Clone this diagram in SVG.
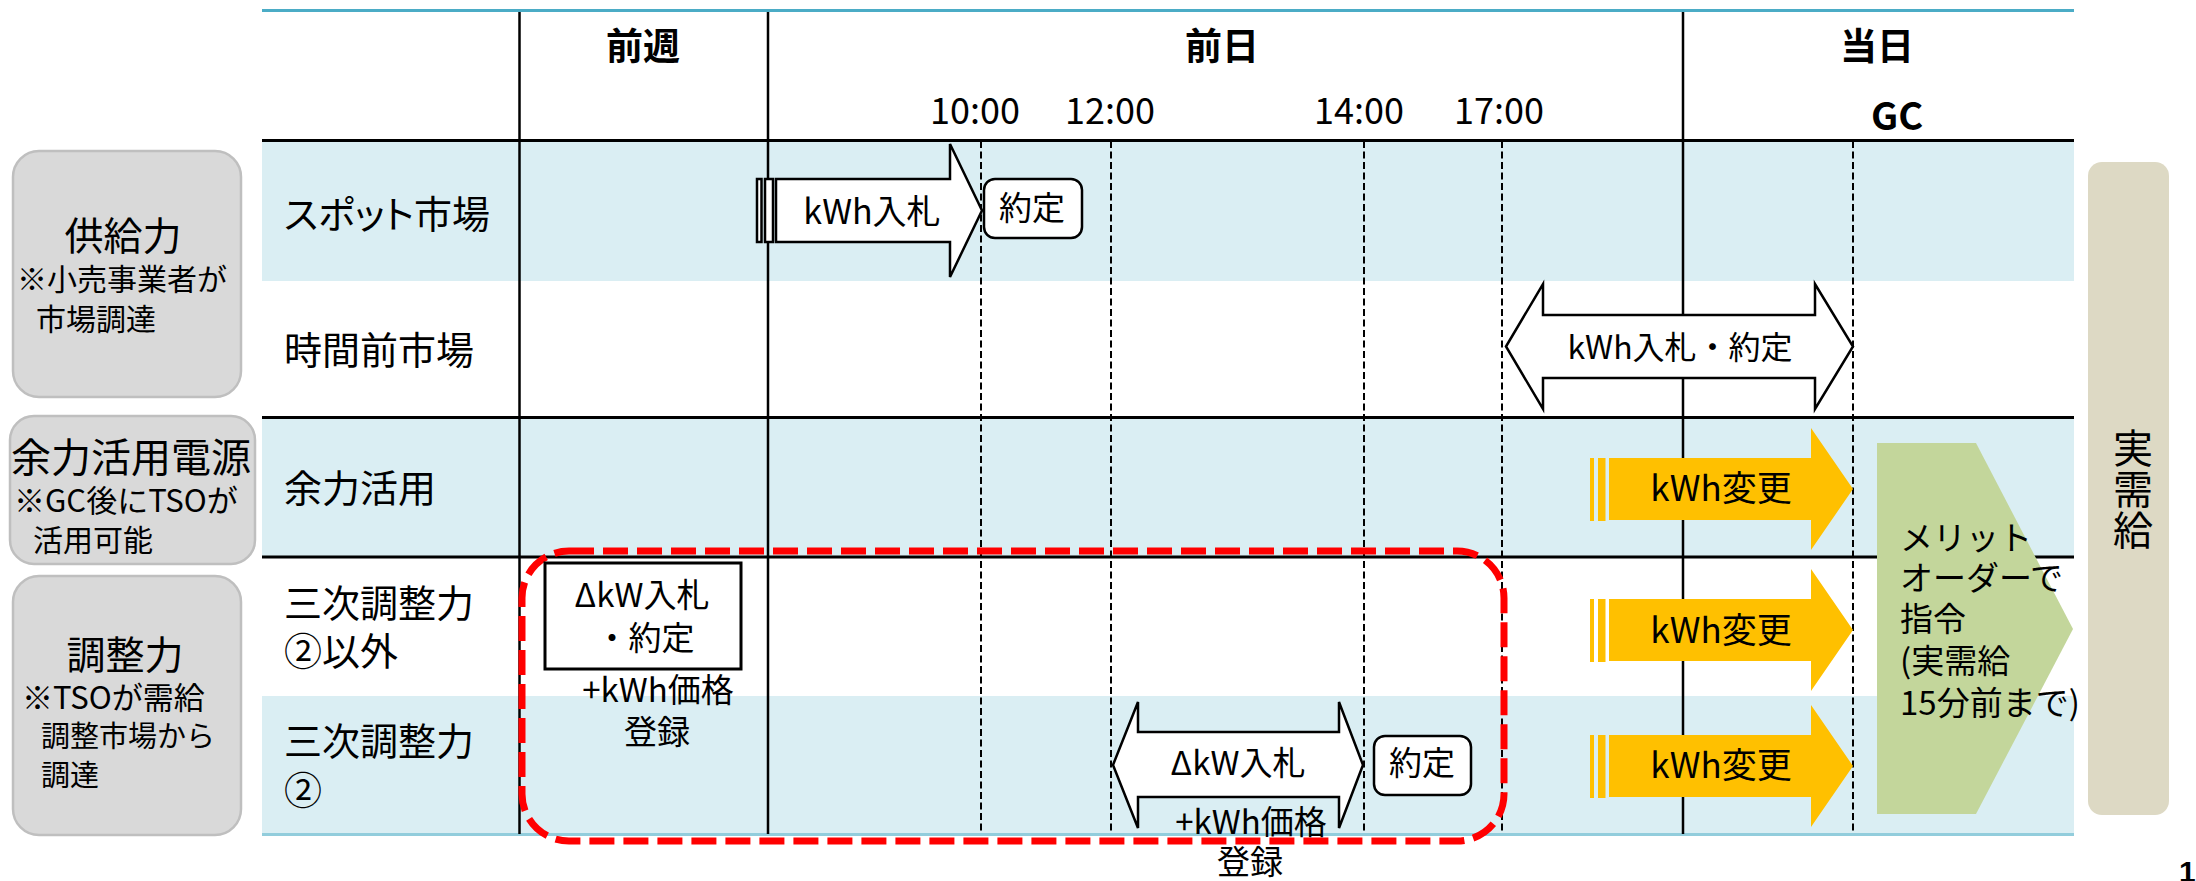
<svg xmlns="http://www.w3.org/2000/svg" width="2196" height="881" viewBox="0 0 2196 881">
<defs>
<style>
text{font-family:"Noto Sans CJK JP","Noto Sans",sans-serif;fill:#000}
.hd{font-size:37px;font-weight:bold;text-anchor:middle}
.tm{font-size:36px;text-anchor:middle}
.rl{font-size:38px}
.big{font-size:39px}
.sm{font-size:30px}
.c{text-anchor:middle}
.t33{font-size:33px}
.band{fill:#daeef3}
.hl{stroke:#000;stroke-width:3}
.vl{stroke:#000;stroke-width:2.5}
.dl{stroke:#000;stroke-width:2;stroke-dasharray:7 3.5}
.gbox{fill:#d9d9d9;stroke:#bfbfbf;stroke-width:2.5}
.wa{fill:#fff;stroke:#000;stroke-width:2.5;stroke-linejoin:miter}
.or{fill:#ffc000}
</style>
<g id="orangeArrow">
<rect class="or" x="1590" y="458" width="4" height="63"/>
<rect class="or" x="1598" y="458" width="7.5" height="63"/>
<polygon class="or" points="1609,458 1811,458 1811,428 1853,489 1811,550 1811,520 1609,520"/>
</g>
</defs>

<g id="table">
<rect class="band" x="262" y="141" width="1812" height="140"/>
<rect class="band" x="262" y="418" width="1812" height="139"/>
<rect class="band" x="262" y="696" width="1812" height="138"/>
<line x1="262" y1="10.5" x2="2074" y2="10.5" stroke="#4bacc6" stroke-width="3"/>
<line x1="262" y1="834.5" x2="2074" y2="834.5" stroke="#92cddc" stroke-width="3"/>
<line class="hl" x1="262" y1="140.5" x2="2074" y2="140.5"/>
<line class="hl" x1="262" y1="417.5" x2="2074" y2="417.5"/>
<line class="hl" x1="262" y1="557" x2="2074" y2="557"/>
<line class="vl" x1="519.5" y1="12" x2="519.5" y2="834"/>
<line class="vl" x1="768" y1="12" x2="768" y2="834"/>
<line class="vl" x1="1683" y1="12" x2="1683" y2="834"/>
<line class="dl" x1="981" y1="141" x2="981" y2="834"/>
<line class="dl" x1="1111" y1="141" x2="1111" y2="834"/>
<line class="dl" x1="1364" y1="141" x2="1364" y2="834"/>
<line class="dl" x1="1502" y1="141" x2="1502" y2="834"/>
<line class="dl" x1="1853" y1="141" x2="1853" y2="834"/>
</g>

<g id="headers">
<text class="hd" x="643" y="60">前週</text>
<text class="hd" x="1222" y="60">前日</text>
<text class="hd" x="1877" y="60">当日</text>
<text class="tm" x="975" y="124">10:00</text>
<text class="tm" x="1110" y="124">12:00</text>
<text class="tm" x="1359" y="124">14:00</text>
<text class="tm" x="1499" y="124">17:00</text>
<text class="hd" x="1897" y="130" style="font-size:38px">GC</text>
</g>

<g id="rowLabels">
<text class="rl" x="284" y="228" style="font-feature-settings:'palt'">スポット市場</text>
<text class="rl" x="284" y="364">時間前市場</text>
<text class="rl" x="284" y="502">余力活用</text>
<text class="rl" x="284" y="617">三次調整力<tspan x="284" y="665">②以外</tspan></text>
<text class="rl" x="284" y="755">三次調整力<tspan x="284" y="804">②</tspan></text>
</g>

<g id="cat-supply">
<rect class="gbox" x="13" y="151" width="228" height="246" rx="26"/>
<text class="big" x="123" y="250"><tspan class="c" x="123" y="250">供給力</tspan><tspan class="sm" x="17" y="290">※小売事業者が</tspan><tspan class="sm" x="36" y="330">市場調達</tspan></text>
</g>

<g id="cat-surplus">
<rect class="gbox" x="10" y="416" width="245" height="148" rx="24"/>
<text x="11" y="472" style="font-size:40px">余力活用電源<tspan x="14" y="512" style="font-size:31px">※GC後にTSOが</tspan><tspan x="33" y="551" style="font-size:30px">活用可能</tspan></text>
</g>

<g id="cat-adjust">
<rect class="gbox" x="13" y="576" width="228" height="259" rx="26"/>
<text class="big" x="125" y="669"><tspan class="c" x="125" y="669">調整力</tspan><tspan x="22" y="709" style="font-size:31px">※TSOが需給</tspan><tspan x="41" y="747" style="font-size:29px">調整市場から</tspan><tspan x="41" y="786" style="font-size:29px">調達</tspan></text>
</g>

<g id="demand">
<rect x="2088" y="162" width="81" height="653" rx="14" fill="#ddd9c4"/>
<text x="2133" y="428" style="font-size:40px;writing-mode:vertical-rl;letter-spacing:1px">実需給</text>
</g>

<g id="red-frame">
<rect x="522" y="551" width="982" height="290" rx="47" fill="none" stroke="#ff0000" stroke-width="7" stroke-dasharray="25 9"/>
</g>

<g id="spot-bid">
<rect class="wa" x="757" y="179" width="4.5" height="63"/>
<rect class="wa" x="765" y="179" width="8" height="63"/>
<polygon class="wa" points="776,179 950,179 950,144 982,210.5 950,277 950,242 776,242"/>
<text class="c" x="872" y="224" style="font-size:34px">kWh入札</text>
</g>

<g id="spot-contract">
<rect class="wa" x="984" y="179" width="98" height="59" rx="11"/>
<text class="c t33" x="1032" y="220">約定</text>
</g>

<g id="intraday">
<polygon class="wa" points="1506,346.5 1543,284 1543,315 1815,315 1815,284 1853,346.5 1815,409 1815,378 1543,378 1543,409"/>
<text class="c" x="1680" y="359" style="font-size:32px">kWh入札・約定</text>
</g>

<g id="kwh-change-1">
<use href="#orangeArrow"/>
<text class="c" x="1721" y="501" style="font-size:35px">kWh変更</text>
</g>
<g id="kwh-change-2">
<use href="#orangeArrow" transform="translate(0,141)"/>
<text class="c" x="1721" y="643" style="font-size:35px">kWh変更</text>
</g>
<g id="kwh-change-3">
<use href="#orangeArrow" transform="translate(0,277)"/>
<text class="c" x="1721" y="778" style="font-size:35px">kWh変更</text>
</g>

<g id="merit-order">
<polygon points="1877,443 1976,443 2073,629 1976,814 1877,814" fill="#c3d69b"/>
<text class="t33" x="1900" y="550">メリット<tspan x="1900" y="590">オーダーで</tspan><tspan x="1900" y="631">指令</tspan><tspan x="1900" y="673">(実需給</tspan><tspan x="1900" y="715">15分前まで)</tspan></text>
</g>

<g id="tertiary1">
<rect x="545" y="563" width="196" height="106" fill="#fff" stroke="#000" stroke-width="3"/>
<text class="c t33" x="642" y="607">ΔkW入札<tspan x="645" y="650">・約定</tspan></text>
<text class="c t33" x="658" y="702">+kWh価格<tspan x="657" y="744">登録</tspan></text>
</g>

<g id="tertiary2-bid">
<polygon class="wa" points="1113,765 1138,702 1138,732 1339,732 1339,702 1363,765 1339,828 1339,797 1138,797 1138,828"/>
<text class="c t33" x="1238" y="775">ΔkW入札</text>
<text class="c t33" x="1251" y="834">+kWh価格<tspan x="1250" y="874">登録</tspan></text>
</g>

<g id="tertiary2-contract">
<rect class="wa" x="1374" y="736" width="97" height="59" rx="11"/>
<text class="c t33" x="1422" y="775">約定</text>
</g>

<g id="connectors"></g>

<text x="2179" y="882" style="font-size:30px;font-weight:bold;font-family:'Liberation Sans',sans-serif">1</text>
</svg>
